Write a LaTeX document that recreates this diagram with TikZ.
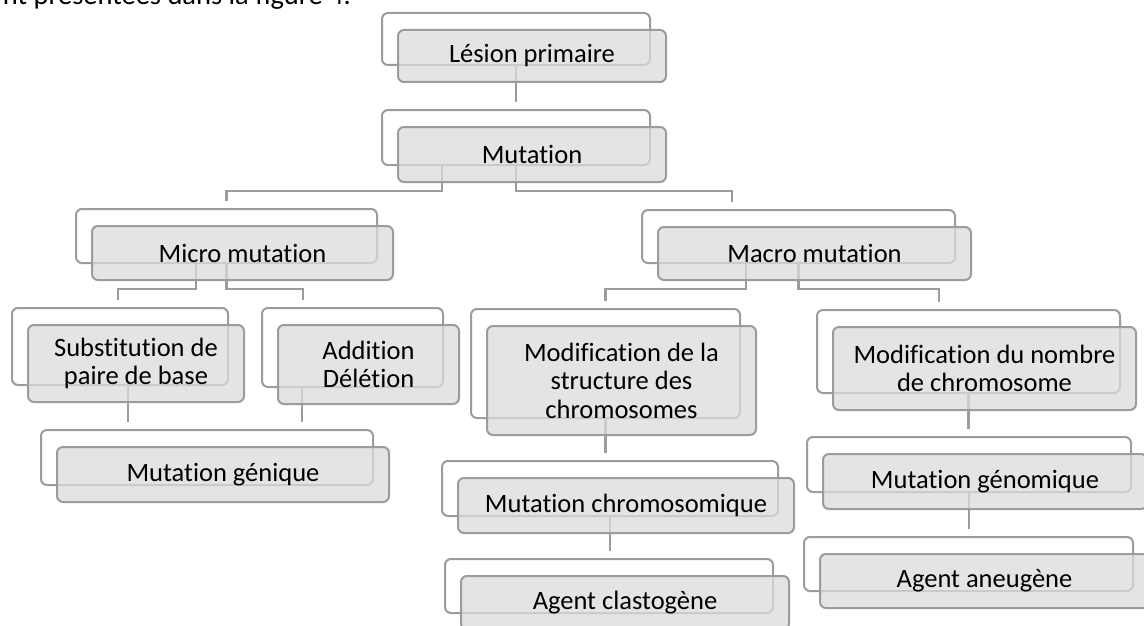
\documentclass[tikz,border=0pt]{standalone}
\usepackage{fontspec}
\setmainfont{Carlito}[Ligatures={NoCommon}, RawFeature={-liga;-calt;-clig}]
\usetikzlibrary{calc}
\definecolor{bordergray}{HTML}{9C9C9C}
\definecolor{frontfill}{HTML}{DCDCDC}
\tikzset{
  backbox/.style={draw=bordergray, line width=2pt, fill=white, rounded corners=6pt, inner sep=0pt, outer sep=0pt},
  frontbox/.style={draw=bordergray, line width=2pt, fill=frontfill, fill opacity=0.75, text opacity=1,
    rounded corners=6pt, inner sep=0pt, outer sep=0pt, align=center,
    font=\fontsize{26.5}{28.5}\selectfont, text=black},
  conn/.style={draw=bordergray, line width=2.2pt, shorten >=8pt},
  bodytext/.style={font=\fontsize{28.5}{34}\selectfont, text=black, inner sep=0pt}
}
% name, x1, y1, x2, y2 (image coordinates of the back box)
\newcommand\mkback[5]{%
  \node[backbox, minimum width={#4pt-#2pt}, minimum height={#5pt-#3pt}] (#1B) at ({(#2+#4)/2},{(#3+#5)/2}) {};}
% name, x1, y1, x2, y2 (of back box), text ; front box shifted by (16,16)
\newcommand\mkfront[6]{%
  \node[frontbox, minimum width={#4pt-#2pt}, minimum height={#5pt-#3pt}] (#1) at ({(#2+#4)/2+16},{(#3+#5)/2+17}) {#6};}
\begin{document}
\begin{tikzpicture}[x=1pt,y=-1pt]
  \useasboundingbox (0,0) rectangle (1144,626);
  \clip (0,0) rectangle (1144,626);
  \fill[white] (0,0) rectangle (1144,626);

  \node[bodytext, anchor=base east] (toptext) at (351,5) {nt présentées dans la figure 4.};

  % back boxes
  \mkback{lesion}{382}{13}{650}{65}
  \mkback{mut}{382}{110}{650}{165}
  \mkback{micro}{76}{209}{377}{263}
  \mkback{macro}{642}{210}{955}{263}
  \mkback{subst}{12}{308}{228}{385}
  \mkback{addi}{262}{308}{443}{387}
  \mkback{genique}{41}{430}{373}{485}
  \mkback{struct}{471}{309}{740}{418}
  \mkback{nombre}{817}{310}{1120}{393}
  \mkback{chromo}{442}{461}{778}{516}
  \mkback{clasto}{445}{559}{773}{613}
  \mkback{genomique}{807}{437}{1131}{492}
  \mkback{aneu}{804}{537}{1133}{591}

  % connectors
  \draw[conn] (lesionB.south) -- (mutB.north);
  \draw[conn] ([xshift=-74.3pt]mutB.south) -- ++(0,25.7) -| (microB.north);
  \draw[conn] (mutB.south) -- ++(0,25.7) -| ([xshift=-66.5pt]macroB.north);
  \draw[conn] ([xshift=-30.5pt]microB.south) -- ++(0,26) -| ([xshift=-1.7pt]substB.north);
  \draw[conn] (microB.south) -- ++(0,26) -| ([xshift=-49.8pt]addiB.north);
  \draw[conn] ([xshift=-52.8pt]macroB.south) -- ++(0,26) -| (structB.north);
  \draw[conn] (macroB.south) -- ++(0,26) -| ([xshift=-29.5pt]nombreB.north);
  \coordinate (s1) at ([xshift=8.3pt]substB.south);
  \coordinate (s2) at ([xshift=-50.8pt]addiB.south);
  \draw[conn] (s1) -- (s1 |- geniqueB.north);
  \draw[conn] (s2) -- (s2 |- geniqueB.north);
  \draw[conn] (structB.south) -- (structB.south |- chromoB.north);
  \draw[conn] (nombreB.south) -- (nombreB.south |- genomiqueB.north);
  \draw[conn] (chromoB.south) -- (chromoB.south |- clastoB.north);
  \draw[conn] (genomiqueB.south) -- (genomiqueB.south |- aneuB.north);

  % front boxes
  \mkfront{lesion}{382}{13}{650}{65}{Lésion primaire}
  \mkfront{mut}{382}{110}{650}{165}{Mutation}
  \mkfront{micro}{76}{209}{377}{263}{Micro mutation}
  \mkfront{macro}{642}{210}{955}{263}{Macro mutation}
  \mkfront{subst}{12}{308}{228}{385}{Substitution de\\paire de base}
  \mkfront{addi}{262}{308}{443}{387}{Addition\\Délétion}
  \mkfront{genique}{41}{430}{373}{485}{Mutation génique}
  \mkfront{struct}{471}{309}{740}{418}{Modification de la\\structure des\\chromosomes}
  \mkfront{nombre}{817}{310}{1120}{393}{Modification du nombre\\de chromosome}
  \mkfront{chromo}{442}{461}{778}{516}{Mutation chromosomique}
  \mkfront{clasto}{445}{559}{773}{613}{Agent clastogène}
  \mkfront{genomique}{807}{437}{1131}{492}{Mutation génomique}
  \mkfront{aneu}{804}{537}{1133}{591}{Agent aneugène}
\end{tikzpicture}
\end{document}
